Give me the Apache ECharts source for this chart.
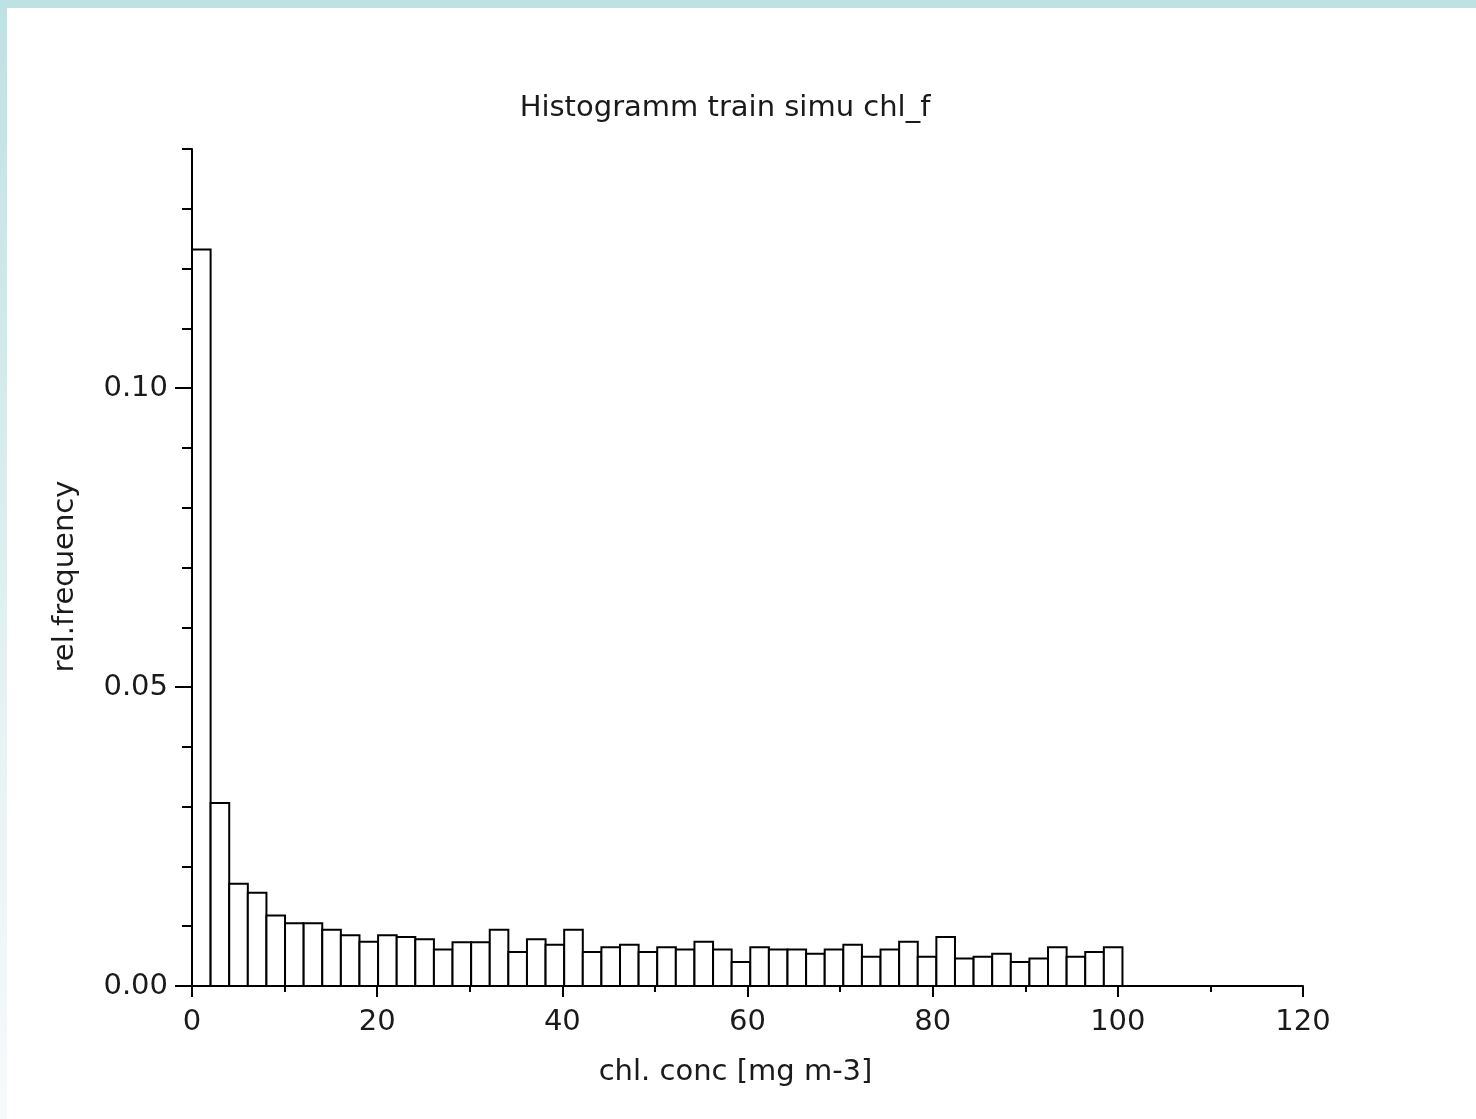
<!DOCTYPE html>
<html><head><meta charset="utf-8">
<script src="https://cdn.jsdelivr.net/npm/echarts@6/dist/echarts.min.js"></script>
<style>
html,body{margin:0;padding:0;background:#fff;overflow:hidden;}
#chart{position:absolute;left:0;top:0;width:1476px;height:1119px;}
#topband{position:absolute;left:0;top:0;width:1476px;height:8px;background:#bee1e3;z-index:5}
#leftband{position:absolute;left:0;top:0;width:7px;height:1119px;background:linear-gradient(#bee1e3,#e4f1f2 60%,#f6fafb);z-index:5}
</style></head><body>
<div id="chart"></div><div id="topband"></div><div id="leftband"></div>
<script>
// Histogram data: relative frequency per bin of chl. concentration
const binStart = 0;
const binWidth = 2.01;
const relFrequency = [
  0.1232, 0.0306, 0.0171, 0.0156, 0.0118, 0.0105, 0.0105, 0.0094, 0.0085, 0.0074,
  0.0085, 0.0082, 0.0078, 0.0061, 0.0073, 0.0073, 0.0094, 0.0057, 0.0078, 0.0069,
  0.0094, 0.0057, 0.0065, 0.0069, 0.0057, 0.0065, 0.0061, 0.0074, 0.0061, 0.0040,
  0.0065, 0.0061, 0.0061, 0.0054, 0.0061, 0.0069, 0.0049, 0.0061, 0.0074, 0.0049,
  0.0082, 0.0046, 0.0049, 0.0054, 0.0040, 0.0046, 0.0065, 0.0049, 0.0057, 0.0065
];
const xTickLabels = [0, 20, 40, 60, 80, 100, 120];
const yTickLabels = [0, 0.05, 0.10];
const yMinorTicks = [0, 0.01, 0.02, 0.03, 0.04, 0.05, 0.06, 0.07, 0.08, 0.09, 0.10, 0.11, 0.12, 0.13, 0.14];
const titleText = 'Histogramm train simu chl_f';
const xName = 'chl. conc [mg m-3]';
const yName = 'rel.frequency';

const FONT = 'DejaVu Sans';
const FS = 29;
const TXT = '#1a1a1a';

const histData = relFrequency.map((v, i) => [binStart + i * binWidth, binStart + (i + 1) * binWidth, v]);

const chart = echarts.init(document.getElementById('chart'), null, {renderer: 'canvas'});
chart.setOption({
  backgroundColor: '#fff',
  animation: false,
  title: {
    text: titleText,
    left: 720, top: 89, textAlign: 'center',
    textStyle: {fontFamily: FONT, fontSize: FS, fontWeight: 'normal', color: TXT}
  },
  grid: {left: 192, top: 149, width: 1111, height: 837, containLabel: false},
  xAxis: [{
    type: 'value', min: 0, max: 120, interval: 10,
    name: xName, nameLocation: 'middle', nameGap: 72,
    nameTextStyle: {fontFamily: FONT, fontSize: FS, color: TXT, padding: [0, 24, 0, 0]},
    axisLine: {show: true, lineStyle: {color: '#000', width: 2}},
    axisTick: {show: true, length: 6, lineStyle: {color: '#000', width: 2}},
    axisLabel: {
      customValues: xTickLabels, margin: 22,
      fontFamily: FONT, fontSize: FS, color: TXT,
      formatter: v => String(v)
    },
    splitLine: {show: false}
  }, {
    type: 'value', min: 0, max: 120, interval: 20, position: 'bottom',
    axisLine: {show: false},
    axisTick: {show: true, customValues: xTickLabels, length: 11, lineStyle: {color: '#000', width: 2}},
    axisLabel: {show: false},
    splitLine: {show: false}
  }],
  yAxis: [{
    type: 'value', min: 0, max: 0.14, interval: 0.01,
    name: yName, nameLocation: 'middle', nameGap: 112, nameRotate: 90,
    nameTextStyle: {fontFamily: FONT, fontSize: FS, color: TXT, padding: [0, 18, 0, 0]},
    axisLine: {show: true, lineStyle: {color: '#000', width: 2}},
    axisTick: {show: true, customValues: yMinorTicks, length: 10, lineStyle: {color: '#000', width: 2}},
    axisLabel: {
      customValues: yTickLabels, margin: 24,
      fontFamily: FONT, fontSize: FS, color: TXT,
      formatter: v => v.toFixed(2)
    },
    splitLine: {show: false}
  }, {
    type: 'value', min: 0, max: 0.14, position: 'left',
    axisLine: {show: false},
    axisTick: {show: true, customValues: yTickLabels, length: 17, lineStyle: {color: '#000', width: 2}},
    axisLabel: {show: false},
    splitLine: {show: false}
  }],
  series: [{
    type: 'custom',
    xAxisIndex: 0, yAxisIndex: 0,
    encode: {x: [0, 1], y: 2},
    data: histData,
    renderItem: function (params, api) {
      const x0 = api.value(0), x1 = api.value(1), y = api.value(2);
      const p0 = api.coord([x0, y]);
      const p1 = api.coord([x1, 0]);
      return {
        type: 'rect',
        shape: {x: p0[0], y: p0[1], width: p1[0] - p0[0], height: p1[1] - p0[1]},
        style: {fill: '#fff', stroke: '#000', lineWidth: 2}
      };
    }
  }]
});
</script>
</body></html>
